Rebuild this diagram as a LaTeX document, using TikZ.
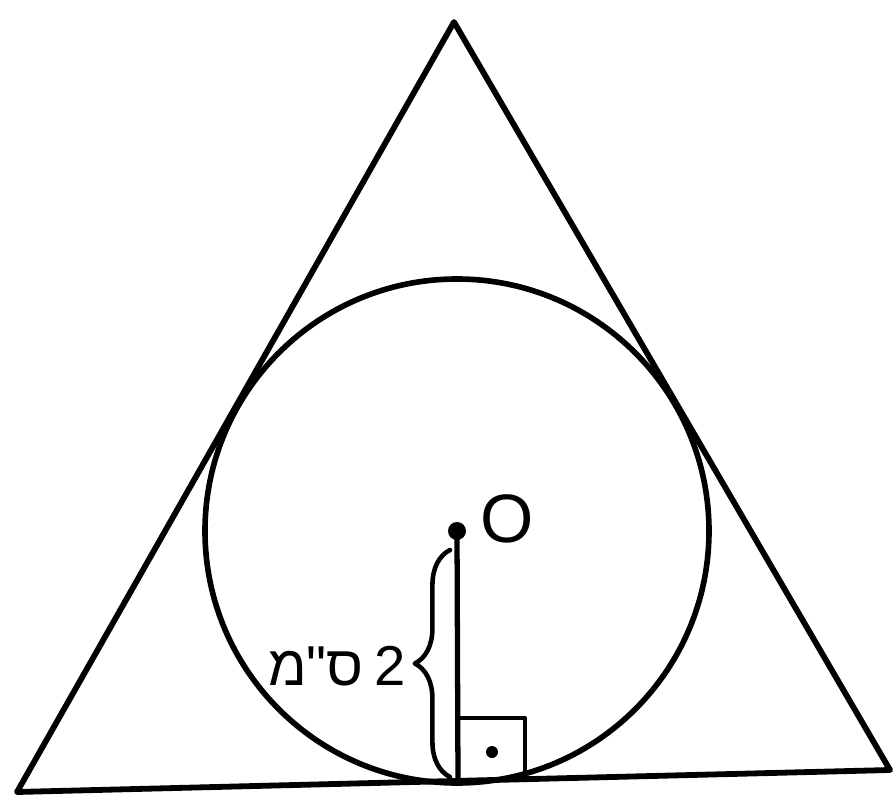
\documentclass[tikz,border=0pt]{standalone}
\usepackage{fontspec}
\setmainfont{Liberation Sans}
\newfontfamily\hebfont[Script=Hebrew]{Liberation Sans}
\TeXXeTstate=1
\usetikzlibrary{decorations.pathreplacing}
\begin{document}
\begin{tikzpicture}[line cap=round,line join=round,x=0.02cm,y=-0.02cm]
		\useasboundingbox (0,0) rectangle (894,805);
		\coordinate (A) at (454,22);
		\coordinate (B) at (17,792);
		\coordinate (C) at (890,770);
		\coordinate (O) at (457,531);
		\coordinate (F) at (458,781);
		\draw [line width=3.3pt] (A) -- (B) -- (C) -- cycle;
		\draw [line width=3.2pt] (O) circle (252);
		\draw [line width=3pt] (O) -- (F);
		\draw [line width=2.6pt] (458,718) -- (525,718) -- (525,780);
		\fill (492,752) circle (6);
		\fill (O) circle (9);
		\node (lblO) at (507,519) {\fontsize{39}{40}\selectfont O};
		\draw [line width=2.6pt,decorate,decoration={brace,amplitude=20pt}] (450,777) -- (450,550);
		\node (lblR) at (337,666) {\fontsize{32}{34}\selectfont\hebfont\beginR 2\kern6pt ס"מ\endR};
	\end{tikzpicture}
\end{document}
